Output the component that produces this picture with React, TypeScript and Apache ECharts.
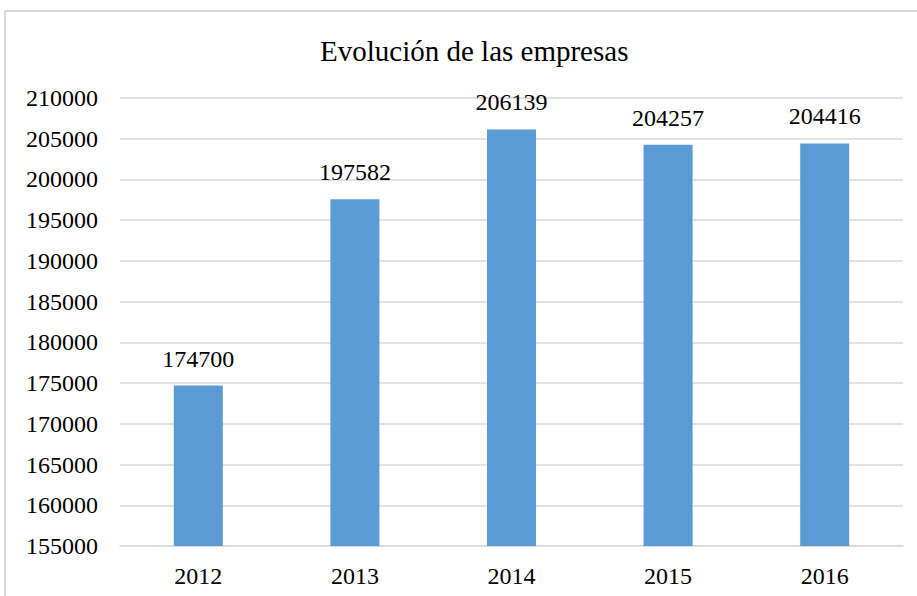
import React, { useEffect, useRef } from "react";
import * as echarts from "echarts";

const categories = ["2012", "2013", "2014", "2015", "2016"];
const values = [174700, 197582, 206139, 204257, 204416];
const titleText = "Evolución de las empresas";

const FONT = "Liberation Serif";

export default function App() {
  const ref = useRef<HTMLDivElement>(null);
  useEffect(() => {
    document.body.style.margin = "0";
    if (!ref.current) return;
    const chart = echarts.init(ref.current, undefined, { renderer: "svg" });
    chart.setOption({
      animation: false,
      backgroundColor: "#ffffff",
      title: {
        text: titleText,
        left: 315,
        top: 31,
        textStyle: { fontFamily: FONT, fontSize: 29, fontWeight: "normal", color: "#000" },
      },
      graphic: [
        {
          type: "rect",
          shape: { x: 5, y: 11, width: 1000, height: 700 },
          style: { fill: "none", stroke: "#d9d9d9", lineWidth: 2 },
          silent: true,
        },
      ],
      grid: { left: 120, right: 14, top: 98, bottom: 50 },
      xAxis: {
        type: "category",
        data: categories,
        axisTick: { show: false },
        axisLine: { show: true, lineStyle: { color: "#d9d9d9", width: 1.5 } },
        axisLabel: { fontFamily: FONT, fontSize: 24, color: "#000", margin: 18 },
      },
      yAxis: {
        type: "value",
        min: 155000,
        max: 210000,
        interval: 5000,
        axisLine: { show: false },
        axisTick: { show: false },
        axisLabel: {
          fontFamily: FONT,
          fontSize: 24,
          color: "#000",
          margin: 22,
          formatter: (v: number) => String(v),
        },
        splitLine: { lineStyle: { color: "#d9d9d9", width: 1.5 } },
      },
      series: [
        {
          type: "bar",
          data: values,
          barWidth: 49,
          itemStyle: { color: "#5B9BD5" },
          label: {
            show: true,
            position: "top",
            distance: 15,
            fontFamily: FONT,
            fontSize: 24,
            color: "#000",
          },
        },
      ],
    });
    return () => chart.dispose();
  }, []);
  return <div ref={ref} style={{ width: 917, height: 596 }} />;
}
